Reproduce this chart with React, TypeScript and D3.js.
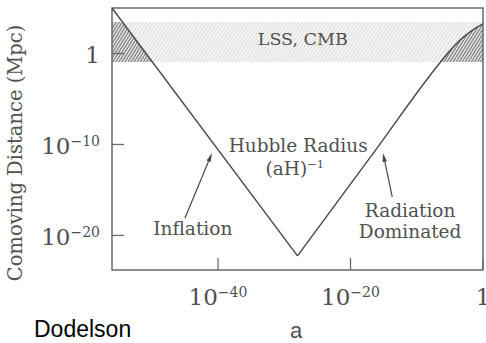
import React from "react";
import * as d3 from "d3";

// ---- data (log10 values) ----
const xDomainLog = [-56, 0];
const yDomainLog = [-23.8, 5];

const inflationLogA = [-56, -28];
const inflationLogD = [5, -22.25];

const radiationLogA = [-28, -17, -6.4, -5, -3.5, -2, -1, 0];
const radiationLogD = [-22.25, -11.4, -0.93, 0.3, 1.45, 2.35, 2.85, 3.25];

const bandLogD = [-0.93, 3.46]; // LSS, CMB band

const yTickExp = [0, -10, -20];
const xTickExp = [-40, -20, 0];

const arrowTailLogA = [-45.0, -13.7];
const arrowTailLogD = [-18.1, -15.77];
const arrowTipLogA = [-40.9, -15.1];
const arrowTipLogD = [-10.93, -10.93];

const W = 486;
const H = 343;
const SERIF = "'DejaVu Serif', serif";
const TXT = "#505050";
const LINE = "#474747";

const p10 = (e: number) => Math.pow(10, e);

export default function App() {
  const x = d3.scaleLog().domain(xDomainLog.map(p10)).range([112, 483]);
  const y = d3.scaleLog().domain(yDomainLog.map(p10)).range([270, 8]);
  const [x0, x1] = x.range();
  const [y0, y1] = y.range();

  const inflPts: [number, number][] = inflationLogA.map((a, i) => [p10(a), p10(inflationLogD[i])]);
  const radPts: [number, number][] = radiationLogA.map((a, i) => [p10(a), p10(radiationLogD[i])]);

  const inflLine = d3.line<[number, number]>().x((d) => x(d[0])).y((d) => y(d[1]))(inflPts) || "";
  const radLine = d3
    .line<[number, number]>()
    .x((d) => x(d[0]))
    .y((d) => y(d[1]))
    .curve(d3.curveMonotoneX)(radPts) || "";

  const inflArea = d3
    .area<[number, number]>()
    .x((d) => x(d[0]))
    .y0(y0)
    .y1((d) => y(d[1]))(inflPts) || "";
  const radArea = d3
    .area<[number, number]>()
    .x((d) => x(d[0]))
    .y0(y0)
    .y1((d) => y(d[1]))
    .curve(d3.curveMonotoneX)(radPts) || "";

  const bandTop = y(p10(bandLogD[1]));
  const bandBot = y(p10(bandLogD[0]));

  const label = (e: number, supSize: number, dy: number) =>
    e === 0 ? (
      "1"
    ) : (
      <>
        10
        <tspan fontSize={supSize} dy={dy}>
          {"\u2212" + Math.abs(e)}
        </tspan>
      </>
    );

  const arrows = arrowTipLogA.map((a, i) => {
    const tx = x(p10(a));
    const ty = y(p10(arrowTipLogD[i]));
    const fx = x(p10(arrowTailLogA[i]));
    const fy = y(p10(arrowTailLogD[i]));
    const ang = Math.atan2(ty - fy, tx - fx);
    const L = 9;
    const w = 2.2;
    const bx = tx - L * Math.cos(ang);
    const by = ty - L * Math.sin(ang);
    const px = -Math.sin(ang) * w;
    const py = Math.cos(ang) * w;
    return (
      <g key={i}>
        <line x1={fx} y1={fy} x2={bx} y2={by} stroke={LINE} strokeWidth={1.2} />
        <path d={`M${tx},${ty}L${bx + px},${by + py}L${bx - px},${by - py}Z`} fill={LINE} />
      </g>
    );
  });

  return (
    <svg
      width={W}
      height={H}
      style={{ position: "absolute", left: 0, top: 0, background: "#fff" }}
      fontFamily={SERIF}
    >
      <defs>
        <pattern id="light" width={3} height={10} patternUnits="userSpaceOnUse" patternTransform="rotate(32)">
          <line x1={1} y1={0} x2={1} y2={10} stroke="#c8c8c8" strokeWidth={1} />
        </pattern>
        <pattern id="dark" width={2.6} height={10} patternUnits="userSpaceOnUse" patternTransform="rotate(32)">
          <line x1={1} y1={0} x2={1} y2={10} stroke="#555" strokeWidth={1.1} />
        </pattern>
        <clipPath id="bandClip">
          <rect x={x0} y={bandTop} width={x1 - x0} height={bandBot - bandTop} />
        </clipPath>
      </defs>

      {/* LSS/CMB band */}
      <rect x={x0} y={bandTop} width={x1 - x0} height={bandBot - bandTop} fill="url(#light)" />
      <g clipPath="url(#bandClip)">
        <path d={inflArea} fill="#fff" />
        <path d={inflArea} fill="url(#dark)" />
        <path d={radArea} fill="#fff" />
        <path d={radArea} fill="url(#dark)" />
      </g>

      {/* frame */}
      <rect x={x0} y={y1} width={x1 - x0} height={y0 - y1} fill="none" stroke="#6a6a6a" strokeWidth={1.5} />

      {/* ticks */}
      {yTickExp.map((e) => (
        <line key={"yt" + e} x1={x0} x2={x0 + 12} y1={y(p10(e))} y2={y(p10(e))} stroke="#6a6a6a" strokeWidth={1.3} />
      ))}
      {xTickExp.map((e) => (
        <line key={"xt" + e} x1={x(p10(e))} x2={x(p10(e))} y1={y0} y2={y0 - 12} stroke="#6a6a6a" strokeWidth={1.3} />
      ))}

      {/* Hubble radius */}
      <path d={inflLine} fill="none" stroke={LINE} strokeWidth={1.4} />
      <path d={radLine} fill="none" stroke={LINE} strokeWidth={1.4} />

      {arrows}

      {/* tick labels */}
      {yTickExp.map((e) => (
        <text key={"yl" + e} x={100} y={y(p10(e)) + 9.5} textAnchor="end" fontSize={23} fill={TXT}>
          {label(e, 14, -8)}
        </text>
      ))}
      {xTickExp.map((e) => (
        <text key={"xl" + e} x={x(p10(e))} y={305} textAnchor="middle" fontSize={23} fill={TXT}>
          {label(e, 14, -8)}
        </text>
      ))}

      {/* annotations */}
      <text x={x(p10(-27.2))} y={y(p10(0.93))} textAnchor="middle" fontSize={17.5} fill={TXT}>
        LSS, CMB
      </text>
      <text x={x(p10(-27.9))} y={y(p10(-10.82))} textAnchor="middle" fontSize={18.5} fill={TXT}>
        Hubble Radius
      </text>
      <text x={x(p10(-28.4))} y={y(p10(-13.35))} textAnchor="middle" fontSize={18.5} fill={TXT}>
        (aH)
        <tspan fontSize={11.5} dy={-7}>
          {"\u2212"}1
        </tspan>
      </text>
      <text x={x(p10(-43.8))} y={y(p10(-19.95))} textAnchor="middle" fontSize={18.5} fill={TXT}>
        Inflation
      </text>
      <text x={x(p10(-11.0))} y={y(p10(-17.97))} textAnchor="middle" fontSize={18.5} fill={TXT}>
        Radiation
      </text>
      <text x={x(p10(-11.0))} y={y(p10(-20.27))} textAnchor="middle" fontSize={18.5} fill={TXT}>
        Dominated
      </text>

      {/* axis titles */}
      <text
        transform={`translate(22,153) rotate(-90)`}
        textAnchor="middle"
        fontSize={19.5}
        fill={TXT}
      >
        Comoving Distance (Mpc)
      </text>
      <text x={x(p10(-28.2))} y={338} textAnchor="middle" fontSize={22} fill={TXT} fontFamily="'Liberation Sans', sans-serif">
        a
      </text>
      <text x={34} y={337} fontSize={23} fill="#000" fontFamily="'Liberation Sans', Arial, sans-serif">
        Dodelson
      </text>
    </svg>
  );
}
